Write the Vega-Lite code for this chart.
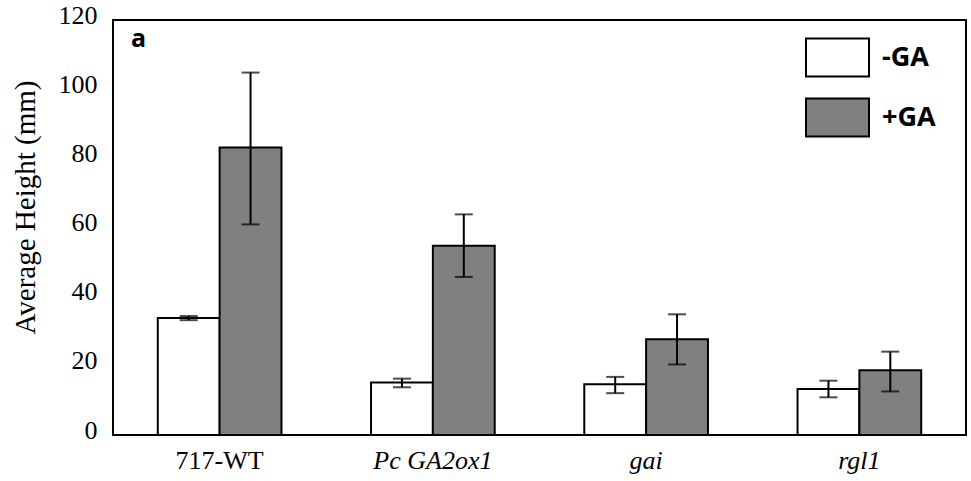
{
  "$schema": "https://vega.github.io/schema/vega-lite/v6.json",
  "width": 853,
  "height": 415,
  "autosize": "none",
  "padding": {"left": 113, "top": 20, "right": 5, "bottom": 46},
  "background": "white",
  "title": {"text": "a", "anchor": "start", "frame": "group", "offset": -50, "dx": 18, "font": "Open Sans", "fontSize": 25, "fontWeight": "bold", "color": "black"},
  "config": {
    "view": {"stroke": "black", "strokeWidth": 2},
    "axis": {"grid": false, "ticks": false, "domain": false, "labelColor": "black", "titleColor": "black"}
  },
  "data": {
    "values": [
      {"genotype": "717-WT", "treatment": "-GA", "mean": 33.8, "lo": 33.2, "hi": 34.4},
      {"genotype": "717-WT", "treatment": "+GA", "mean": 83.1, "lo": 60.9, "hi": 104.8},
      {"genotype": "Pc GA2ox1", "treatment": "-GA", "mean": 15.2, "lo": 13.8, "hi": 16.3},
      {"genotype": "Pc GA2ox1", "treatment": "+GA", "mean": 54.7, "lo": 45.7, "hi": 63.8},
      {"genotype": "gai", "treatment": "-GA", "mean": 14.7, "lo": 12.1, "hi": 16.8},
      {"genotype": "gai", "treatment": "+GA", "mean": 27.7, "lo": 20.4, "hi": 34.9},
      {"genotype": "rgl1", "treatment": "-GA", "mean": 13.3, "lo": 10.9, "hi": 15.7},
      {"genotype": "rgl1", "treatment": "+GA", "mean": 18.7, "lo": 12.6, "hi": 24.1}
    ]
  },
  "encoding": {
    "x": {
      "field": "genotype", "type": "nominal",
      "sort": ["717-WT", "Pc GA2ox1", "gai", "rgl1"],
      "scale": {"paddingInner": 0.42, "paddingOuter": 0.21},
      "axis": {
        "title": null, "labelAngle": 0, "labelFont": "Liberation Serif", "labelFontSize": 26, "labelPadding": 12,
        "labelFontStyle": {"condition": {"test": "datum.value == '717-WT'", "value": "normal"}, "value": "italic"}
      }
    },
    "xOffset": {"field": "treatment", "type": "nominal", "sort": ["-GA", "+GA"], "scale": {"paddingInner": 0, "paddingOuter": 0}}
  },
  "layer": [
    {
      "mark": {"type": "bar", "stroke": "black", "strokeWidth": 2},
      "encoding": {
        "y": {
          "field": "mean", "type": "quantitative",
          "scale": {"domain": [0, 120], "nice": false},
          "axis": {
            "title": "Average Height (mm)", "values": [0, 20, 40, 60, 80, 100, 120],
            "labelFont": "Liberation Serif", "labelFontSize": 26, "labelPadding": 16, "labelOffset": -5,
            "titleFont": "Liberation Serif", "titleFontSize": 29, "titleFontWeight": "normal", "titlePadding": 18, "titleY": 187
          }
        },
        "fill": {
          "field": "treatment", "type": "nominal", "sort": ["-GA", "+GA"],
          "scale": {"domain": ["-GA", "+GA"], "range": ["#ffffff", "#808080"]},
          "legend": {
            "title": null, "orient": "none", "legendX": 692, "legendY": 5, "padding": 0,
            "symbolType": "M-1,-0.6L1,-0.6L1,0.6L-1,0.6Z", "symbolSize": 3969,
            "symbolStrokeColor": "black", "symbolStrokeWidth": 2, "symbolOpacity": 1,
            "labelFont": "Open Sans", "labelFontSize": 27, "labelFontWeight": "bold", "labelColor": "black",
            "labelOffset": 12, "rowPadding": 4
          }
        }
      }
    },
    {
      "mark": {"type": "rule", "color": "black", "strokeWidth": 2},
      "encoding": {
        "y": {"field": "lo", "type": "quantitative"},
        "y2": {"field": "hi"}
      }
    },
    {
      "mark": {"type": "tick", "color": "black", "size": 18, "thickness": 2},
      "encoding": {"y": {"field": "lo", "type": "quantitative"}}
    },
    {
      "mark": {"type": "tick", "color": "black", "size": 18, "thickness": 2},
      "encoding": {"y": {"field": "hi", "type": "quantitative"}}
    }
  ]
}
